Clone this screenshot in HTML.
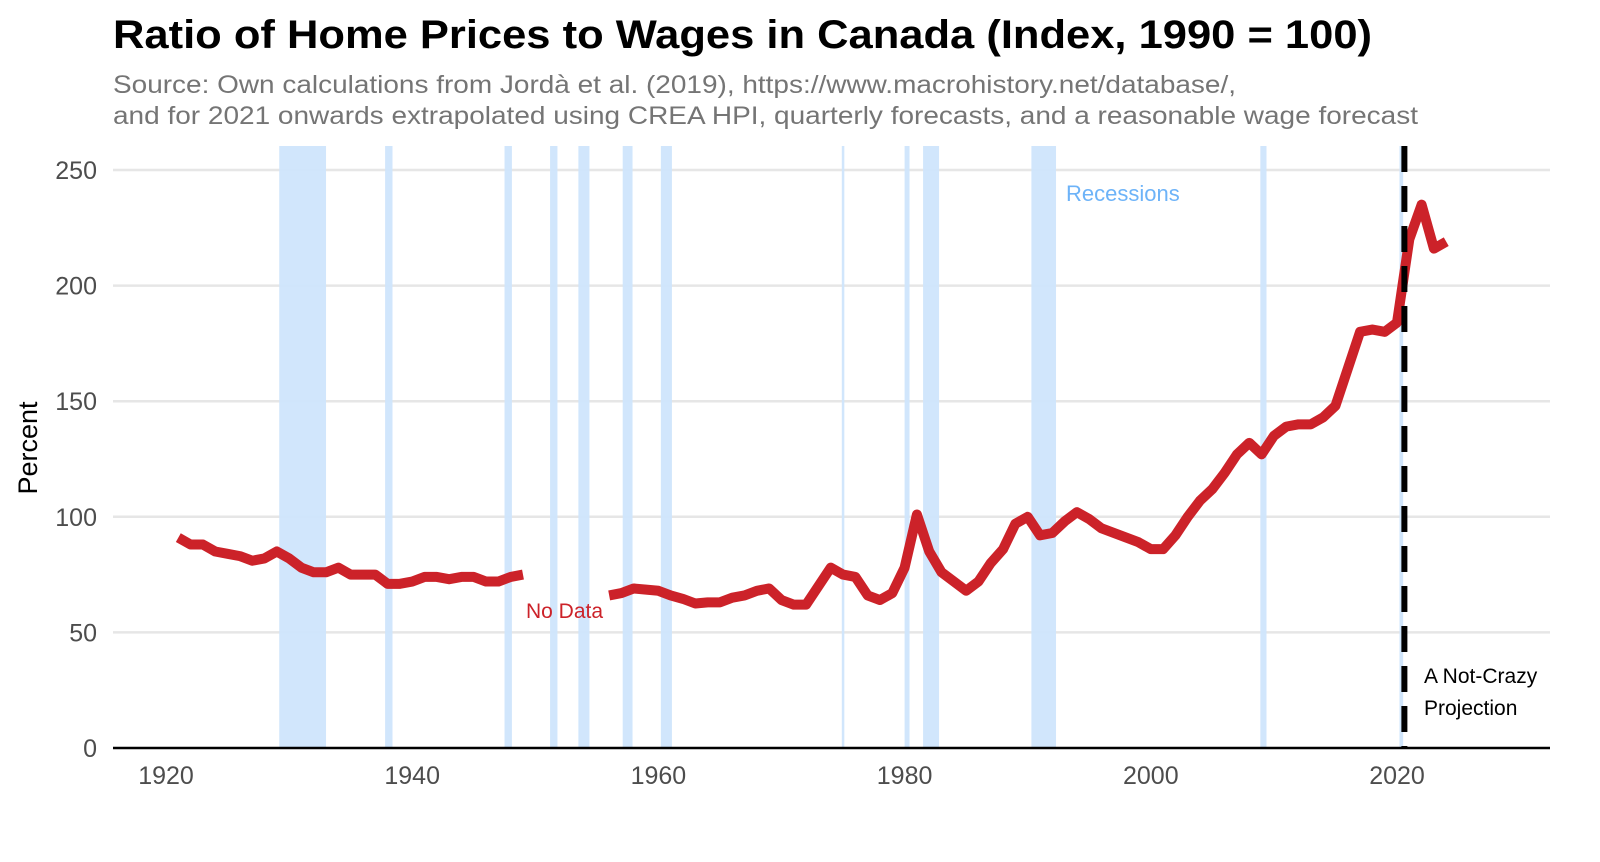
<!DOCTYPE html>
<html><head><meta charset="utf-8"><style>
body{margin:0;background:#fff;font-family:"Liberation Sans",sans-serif}
</style></head><body>
<svg id="c" width="1600" height="857" xmlns="http://www.w3.org/2000/svg">
<text x="113" y="48" font-size="40" font-weight="bold" fill="#000" textLength="1259" lengthAdjust="spacingAndGlyphs">Ratio of Home Prices to Wages in Canada (Index, 1990 = 100)</text>
<text x="113" y="93" font-size="25" fill="#757575" textLength="1123" lengthAdjust="spacingAndGlyphs">Source: Own calculations from Jordà et al. (2019), https://www.macrohistory.net/database/,</text>
<text x="113" y="124" font-size="25" fill="#757575" textLength="1305" lengthAdjust="spacingAndGlyphs">and for 2021 onwards extrapolated using CREA HPI, quarterly forecasts, and a reasonable wage forecast</text>
<text transform="translate(37,448) rotate(-90)" text-anchor="middle" font-size="27" fill="#000">Percent</text>
<g id="g"></g>
</svg>
<script>
const yTicks=[0,50,100,150,200,250];
const xTicks=[1920,1940,1960,1980,2000,2020];
const recStart=[1929.2,1937.8,1947.5,1951.2,1953.5,1957.1,1960.2,1974.9,1980.0,1981.5,1990.3,2008.9,2020.2];
const recEnd=[1933.0,1938.4,1948.1,1951.8,1954.4,1957.9,1961.1,1975.1,1980.4,1982.8,1992.3,2009.4,2020.5];
const yearsA=[1921,1922,1923,1924,1925,1926,1927,1928,1929,1930,1931,1932,1933,1934,1935,1936,1937,1938,1939,1940,1941,1942,1943,1944,1945,1946,1947,1948,1949];
const valsA=[91,88,88,85,84,83,81,82,85,82,78,76,76,78,75,75,75,71,71,72,74,74,73,74,74,72,72,74,75];
const yearsB=[1956,1957,1958,1959,1960,1961,1962,1963,1964,1965,1966,1967,1968,1969,1970,1971,1972,1973,1974,1975,1976,1977,1978,1979,1980,1981,1982,1983,1984,1985,1986,1987,1988,1989,1990,1991,1992,1993,1994,1995,1996,1997,1998,1999,2000,2001,2002,2003,2004,2005,2006,2007,2008,2009,2010,2011,2012,2013,2014,2015,2016,2017,2018,2019,2020,2021,2022,2023,2024];
const valsB=[66,67,69,68.5,68,66,64.5,62.5,63,63,65,66,68,69,64,62,62,70,78,75,74,66,64,67,78,101,85,76,72,68,72,80,86,97,100,92,93,98,102,99,95,93,91,89,86,86,92,100,107,112,119,127,132,127,135,139,140,140,143,148,164,180,181,180,184,220,235,216,219];
const projYear=2020.6;
const X=y=>166+(y-1920)*12.31, Y=v=>748-v*2.312;
const g=document.getElementById('g'), NS='http://www.w3.org/2000/svg';
function mk(t,a){const e=document.createElementNS(NS,t);for(const k in a)e.setAttribute(k,a[k]);g.appendChild(e);return e;}
yTicks.forEach(v=>{
 if(v>0){const l=mk('line',{x1:113,x2:1550,y1:Y(v),y2:Y(v),stroke:'#e6e6e6','stroke-width':2.5});
 
 }
 const t=mk('text',{x:97,y:Y(v)+9,'text-anchor':'end','font-size':25,fill:'#4d4d4d'});t.textContent=v;
 
 
});
recStart.forEach((s,i)=>{
 const r=mk('rect',{x:X(s),y:146,width:Math.max(X(recEnd[i])-X(s),2.5),height:602,fill:'#cfe5fc',opacity:0.95});
 
 
});
xTicks.forEach(v=>{
 const t=mk('text',{x:X(v),y:784,'text-anchor':'middle','font-size':25,fill:'#4d4d4d'});t.textContent=v;
 
 
});
function line(ys,vs,n){const p=mk('polyline',{points:ys.map((y,i)=>X(y)+','+Y(vs[i])).join(' '),fill:'none',stroke:'#cc2229','stroke-width':10,'stroke-linejoin':'round'});
 
 }
line(yearsA,valsA,'ratio-line-prewar');
line(yearsB,valsB,'ratio-line-postwar');
const d=mk('line',{x1:X(projYear),x2:X(projYear),y1:146,y2:748,stroke:'#000','stroke-width':6,'stroke-dasharray':'26,14'});


const ax=mk('line',{x1:113,x2:1550,y1:748,y2:748,stroke:'#000','stroke-width':2.5});


function lab(x,y,s,c,n,sz){const t=mk('text',{x:x,y:y,'font-size':sz||21,fill:c});t.textContent=s;
 
 }
lab(1066,201,'Recessions','#6db3f8','recessions-label',22);
lab(526,618,'No Data','#cc2229','no-data-label',21);
lab(1424,683,'A Not-Crazy','#000','projection-label-1',21);
lab(1424,715,'Projection','#000','projection-label-2',21);
</script>
</body></html>
